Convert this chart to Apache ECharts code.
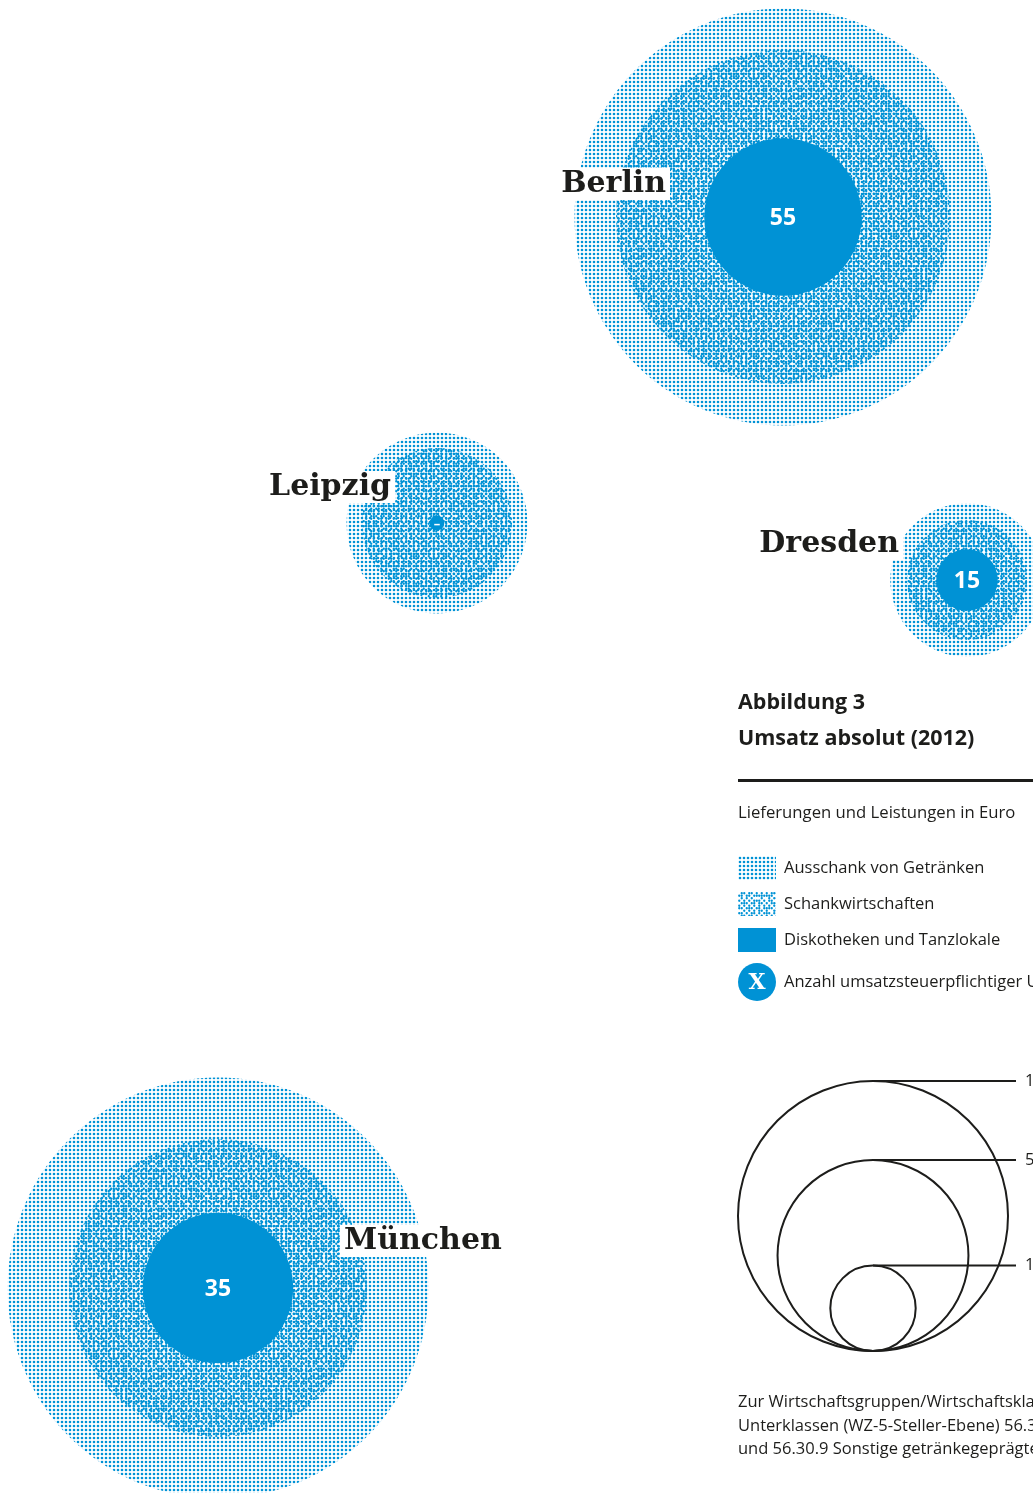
<!DOCTYPE html>
<html>
<head>
<meta charset="utf-8">
<script src="https://cdn.jsdelivr.net/npm/echarts@6/dist/echarts.min.js"></script>
<style>
  html, body { margin: 0; padding: 0; background: #fff; }
  #chart { width: 1033px; height: 1493px; }
</style>
</head>
<body>
<div id="chart"></div>
<script>
// Umsatz absolut (2012), Lieferungen und Leistungen in Mio. Euro
const cities = ['Berlin', 'Leipzig', 'Dresden', 'München'];
const ausschank = [238.5, 44.9, 32.3, 243.1];
const schankwirtschaften = [153.0, 30.9, 19.8, 121.8];
const diskotheken = [34.0, 0.3, 5.2, 31.0];
const anzahl = [55, null, 15, 35];
const scaleValues = [100, 50, 10];
const scaleLabels = ['100 Mio. Euro', '50 Mio. Euro', '10 Mio. Euro'];

const seriesNames = [
  'Ausschank von Getränken',
  'Schankwirtschaften',
  'Diskotheken und Tanzlokale',
  'Anzahl umsatzsteuerpflichtiger Unternehmen'
];

// layout only (page pixels)
const cityPos = [[783, 217], [437, 523], [967, 580], [218, 1288]];
const nameAnchor = [[-113, -33, 'right'], [-42, -36, 'right'], [-64, -36, 'right'], [122, -47, 'left']];
const scaleBase = [873, 1351];
const scaleLineEnd = 1016;
const scaleLabelX = 1025;

const R_REF = 135; // radius in px for V_REF
const V_REF = 100;
const radius = v => R_REF * Math.sqrt(v / V_REF);

const BLUE = '#0092d5';
const INK = '#1d1d1b';
const SANS = '"Open Sans", "Noto Sans", sans-serif';
const SERIF = '"DejaVu Serif", serif';

// --- textures ---
function dotTile() {
  const c = document.createElement('canvas');
  c.width = 4; c.height = 4;
  const ctx = c.getContext('2d');
  ctx.fillStyle = BLUE;
  ctx.beginPath();
  ctx.arc(2, 2, 1.3, 0, Math.PI * 2);
  ctx.fill();
  return c;
}

// error-diffused "worm" screen for the middle ring
function wormTile() {
  const n = 64, cell = 2.5;
  const c = document.createElement('canvas');
  c.width = c.height = n * cell;
  const ctx = c.getContext('2d');
  ctx.fillStyle = BLUE;
  const err = new Float32Array(n * n);
  const hash = (x, y) => {
    const s = Math.sin(x * 127.1 + y * 311.7) * 43758.5453;
    return s - Math.floor(s);
  };
  for (let y = 0; y < n; y++) {
    const ltr = y % 2 === 0;
    for (let k = 0; k < n; k++) {
      const x = ltr ? k : n - 1 - k;
      const i = y * n + x;
      const v = 0.6 + err[i];
      const on = v + (hash(x, y) - 0.5) * 0.3 > 0.5;
      const e = v - (on ? 1 : 0);
      const dx = ltr ? 1 : -1;
      const xf = (x + dx + n) % n, xb = (x - dx + n) % n, yd = (y + 1) % n;
      err[y * n + xf] += e * 7 / 16;
      err[yd * n + xb] += e * 3 / 16;
      err[yd * n + x] += e * 5 / 16;
      err[yd * n + xf] += e * 1 / 16;
      if (on) {
        ctx.beginPath();
        ctx.arc(x * cell + 1.25, y * cell + 1.25, 1.15, 0, Math.PI * 2);
        ctx.fill();
      }
    }
  }
  return c;
}

const dots = dotTile();
const worms = wormTile();
const dotFill = { image: dots, repeat: 'repeat' };
const wormFill = { image: worms, repeat: 'repeat' };

function iconFrom(tile) {
  const c = document.createElement('canvas');
  c.width = 38; c.height = 24;
  const ctx = c.getContext('2d');
  ctx.fillStyle = tile ? ctx.createPattern(tile, 'repeat') : BLUE;
  ctx.fillRect(0, 0, 38, 24);
  return 'image://' + c.toDataURL();
}

function countIcon() {
  const c = document.createElement('canvas');
  c.width = 38; c.height = 38;
  const ctx = c.getContext('2d');
  ctx.fillStyle = BLUE;
  ctx.beginPath();
  ctx.arc(19, 19, 19, 0, Math.PI * 2);
  ctx.fill();
  ctx.fillStyle = '#fff';
  ctx.font = 'bold 22px ' + SERIF;
  ctx.textAlign = 'center';
  ctx.textBaseline = 'middle';
  ctx.fillText('X', 19, 20);
  return 'image://' + c.toDataURL();
}

// --- series ---
const cityData = cities.map((c, i) => [cityPos[i][0], cityPos[i][1]]);

function bubbleSeries(name, values, fill, z) {
  return {
    type: 'custom',
    name: name,
    z: z,
    silent: true,
    coordinateSystem: 'cartesian2d',
    data: cityData.map((p, i) => [p[0], p[1], values[i]]),
    encode: { x: 0, y: 1 },
    renderItem: (params, api) => {
      const p = api.coord([api.value(0), api.value(1)]);
      return {
        type: 'circle',
        shape: { cx: p[0], cy: p[1], r: radius(api.value(2)) },
        style: { fill: fill }
      };
    }
  };
}

const series = [
  bubbleSeries(seriesNames[0], ausschank, dotFill, 1),
  bubbleSeries(seriesNames[1], schankwirtschaften, wormFill, 2),
  bubbleSeries(seriesNames[2], diskotheken, BLUE, 3),
  {
    type: 'custom',
    name: seriesNames[3],
    z: 4,
    silent: true,
    coordinateSystem: 'cartesian2d',
    data: cityData,
    encode: { x: 0, y: 1 },
    renderItem: (params, api) => {
      const p = api.coord([api.value(0), api.value(1)]);
      const n = anzahl[params.dataIndex];
      return {
        type: 'text',
        style: {
          text: n == null ? '–' : String(n),
          x: p[0], y: p[1] + 1,
          fill: '#fff',
          font: (n == null ? 'bold 13px ' : 'bold 23px ') + SANS,
          align: 'center', verticalAlign: 'middle'
        }
      };
    }
  },
  {
    type: 'custom',
    name: 'Städte',
    z: 5,
    silent: true,
    coordinateSystem: 'cartesian2d',
    data: cityData,
    encode: { x: 0, y: 1 },
    renderItem: (params, api) => {
      const p = api.coord([api.value(0), api.value(1)]);
      const a = nameAnchor[params.dataIndex];
      return {
        type: 'text',
        style: {
          text: cities[params.dataIndex],
          x: p[0] + a[0], y: p[1] + a[1],
          fill: INK,
          font: 'bold 30px ' + SERIF,
          align: a[2], verticalAlign: 'middle',
          backgroundColor: '#fff',
          padding: [0, 4, 2, 4]
        }
      };
    }
  },
  {
    type: 'custom',
    name: 'Größenskala',
    z: 5,
    silent: true,
    coordinateSystem: 'cartesian2d',
    data: scaleValues.map(v => [scaleBase[0], scaleBase[1], v]),
    encode: { x: 0, y: 1 },
    renderItem: (params, api) => {
      const p = api.coord([api.value(0), api.value(1)]);
      const r = radius(api.value(2));
      const topY = p[1] - 2 * r;
      return {
        type: 'group',
        children: [
          {
            type: 'circle',
            shape: { cx: p[0], cy: p[1] - r, r: r },
            style: { fill: 'none', stroke: INK, lineWidth: 2 }
          },
          {
            type: 'line',
            shape: { x1: p[0], y1: topY, x2: scaleLineEnd, y2: topY },
            style: { stroke: INK, lineWidth: 2 }
          },
          {
            type: 'text',
            style: {
              text: scaleLabels[params.dataIndex],
              x: scaleLabelX, y: topY,
              fill: INK, font: '16.5px ' + SANS,
              align: 'left', verticalAlign: 'middle'
            }
          }
        ]
      };
    }
  }
];

const chart = echarts.init(document.getElementById('chart'), null, { renderer: 'canvas' });

chart.setOption({
  animation: false,
  backgroundColor: '#fff',
  grid: { left: 0, right: 0, top: 0, bottom: 0 },
  xAxis: { type: 'value', min: 0, max: 1033, show: false },
  yAxis: { type: 'value', min: 0, max: 1493, inverse: true, show: false },
  title: [
    {
      text: 'Abbildung 3\nUmsatz absolut (2012)',
      left: 738, top: 685, padding: 0,
      textStyle: { fontFamily: SANS, fontWeight: 'bold', fontSize: 21.5, lineHeight: 36, color: INK }
    },
    {
      text: 'Lieferungen und Leistungen in Euro',
      left: 738, top: 802, padding: 0,
      textStyle: { fontFamily: SANS, fontWeight: 'normal', fontSize: 16.7, lineHeight: 22, color: INK }
    },
    {
      text: 'Zur Wirtschaftsgruppen/Wirtschaftsklasse 56.30 gehören die\n' +
            'Unterklassen (WZ-5-Steller-Ebene) 56.30.1 Schankwirtschaften, 56.30.2\n' +
            'und 56.30.9 Sonstige getränkegeprägte Gastronomie.',
      left: 738, top: 1391, padding: 0,
      textStyle: { fontFamily: SANS, fontWeight: 'normal', fontSize: 16.5, lineHeight: 23.5, color: INK }
    }
  ],
  legend: [
    {
      orient: 'vertical',
      left: 738, top: 856, padding: 0,
      itemWidth: 38, itemHeight: 24, itemGap: 12,
      selectedMode: false,
      data: [
        { name: seriesNames[0], icon: iconFrom(dots) },
        { name: seriesNames[1], icon: iconFrom(worms) },
        { name: seriesNames[2], icon: iconFrom(null) }
      ],
      textStyle: { fontFamily: SANS, fontSize: 16.5, color: INK, padding: [0, 0, 0, 3] }
    },
    {
      orient: 'vertical',
      left: 738, top: 963, padding: 0,
      itemWidth: 38, itemHeight: 38,
      selectedMode: false,
      data: [{ name: seriesNames[3], icon: countIcon() }],
      textStyle: { fontFamily: SANS, fontSize: 16.5, color: INK, padding: [0, 0, 0, 3] }
    }
  ],
  graphic: [
    {
      type: 'rect', left: 738, top: 779,
      shape: { width: 300, height: 3 },
      style: { fill: INK }
    }
  ],
  series: series
});
</script>
</body>
</html>
